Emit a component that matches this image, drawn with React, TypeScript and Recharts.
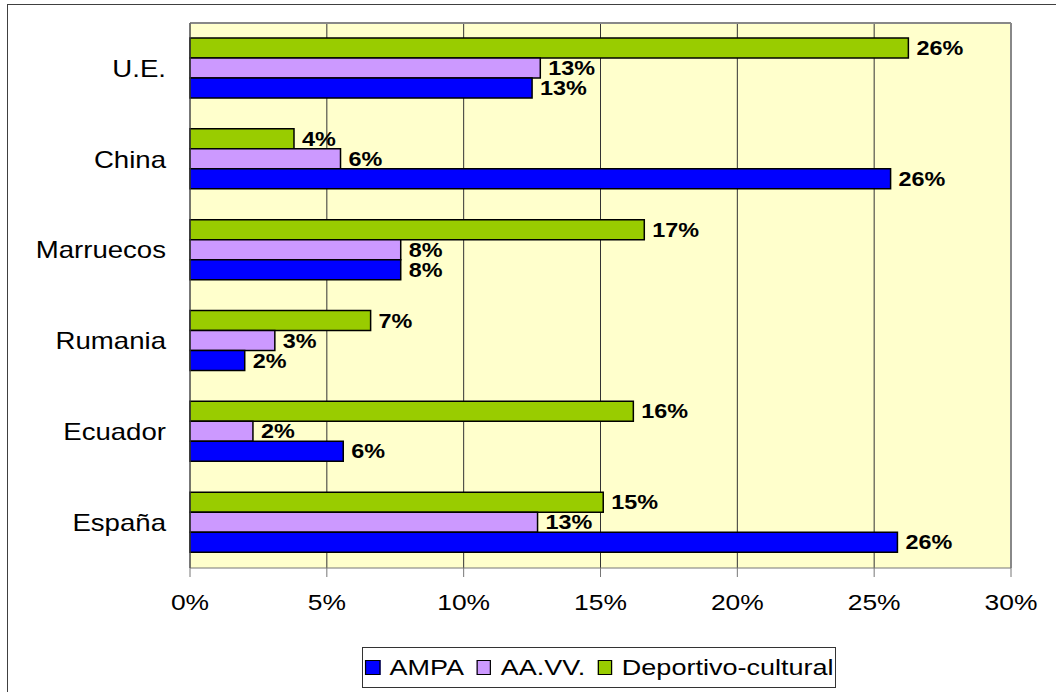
import React from 'react';
import { BarChart, Bar, XAxis, YAxis, CartesianGrid, Legend, LabelList, ReferenceLine } from 'recharts';

const categories = ['U.E.', 'China', 'Marruecos', 'Rumania', 'Ecuador', 'España'];
const ampa = [12.5, 25.6, 7.7, 2.0, 5.6, 25.85];
const aavv = [12.8, 5.5, 7.7, 3.1, 2.3, 12.7];
const deportivo = [26.25, 3.8, 16.6, 6.6, 16.2, 15.1];
const xTicks = [0, 5, 10, 15, 20, 25, 30];

const series = [
  { key: 'deportivo', name: 'Deportivo-cultural', color: '#99CC00' },
  { key: 'aavv', name: 'AA.VV.', color: '#CC99FF' },
  { key: 'ampa', name: 'AMPA', color: '#0000FF' },
];

const data = categories.map((c, i) => ({
  name: c,
  ampa: ampa[i],
  aavv: aavv[i],
  deportivo: deportivo[i],
}));

const FONT = '"Liberation Sans", Arial, sans-serif';
const SX = 1.2;

const CatTick = (props: any) => {
  const { x, y, payload } = props;
  return (
    <g transform={`translate(${x},${y}) scale(${SX},1)`}>
      <text x={0} y={0} dy="0.36em" textAnchor="end" fontFamily={FONT} fontSize={23} fill="#000">
        {payload.value}
      </text>
    </g>
  );
};

const NumTick = (props: any) => {
  const { x, y, payload } = props;
  return (
    <g transform={`translate(${x},${y}) scale(${SX},1)`}>
      <text x={0} y={0} dy={31} textAnchor="middle" fontFamily={FONT} fontSize={22} fill="#000">
        {payload.value + '%'}
      </text>
    </g>
  );
};

const ValueLabel = (props: any) => {
  const { x, y, width, height, value } = props;
  const lx = x + width + 8;
  const ly = y + height / 2;
  return (
    <g transform={`translate(${lx},${ly}) scale(${SX},1)`}>
      <text x={0} y={0} dy="0.36em" textAnchor="start" fontFamily={FONT} fontWeight="bold" fontSize={19.5} fill="#000">
        {Math.round(value) + '%'}
      </text>
    </g>
  );
};

const legendOrder = ['ampa', 'aavv', 'deportivo'];

const LegendBox = () => (
  <div
    style={{
      boxSizing: 'border-box',
      width: 474,
      height: 41,
      border: '1px solid #333',
      background: '#fff',
      display: 'flex',
      alignItems: 'center',
      justifyContent: 'center',
      fontFamily: FONT,
      fontSize: 22.5,
      color: '#000',
    }}
  >
    <div style={{ display: 'flex', alignItems: 'center', transform: `scaleX(${SX})`, whiteSpace: 'nowrap' }}>
      {legendOrder.map((k, i) => {
        const s = series.find((x) => x.key === k)!;
        return (
          <div key={k} style={{ display: 'flex', alignItems: 'center', marginLeft: i === 0 ? 0 : 10 }}>
            <span
              style={{
                display: 'inline-block',
                boxSizing: 'border-box',
                width: 12.5,
                height: 15,
                background: s.color,
                border: '1.5px solid #000',
                marginRight: 8,
              }}
            />
            <span>{s.name}</span>
          </div>
        );
      })}
    </div>
  </div>
);

export default function App() {
  return (
    <div style={{ position: 'fixed', left: 0, top: 0, width: 1056, height: 692, overflow: 'hidden', background: '#fff' }}>
      <div style={{ position: 'absolute', left: 0, top: 0 }}>
        <BarChart
          width={1056}
          height={692}
          data={data}
          layout="vertical"
          margin={{ top: 23, right: 45, left: 0, bottom: 4 }}
          barCategoryGap="16.5%"
          barGap={0}
        >
          <CartesianGrid horizontal={false} stroke="#333" fill="#FFFFCC" />
          <CartesianGrid vertical={false} horizontalPoints={[23]} stroke="#888" strokeWidth={2} />
          <XAxis
            type="number"
            domain={[0, 30]}
            ticks={xTicks}
            interval={0}
            height={79}
            tick={<NumTick />}
            tickSize={9}
            stroke="#777"
          />
          <YAxis yAxisId="b" type="number" domain={[0, 6]} ticks={[0, 1, 2, 3, 4, 5, 6]} width={0} tick={() => <g />} tickSize={9} axisLine={false} stroke="#555" />
          <YAxis
            type="category"
            dataKey="name"
            width={190}
            tick={<CatTick />}
            tickLine={false}
            tickSize={0}
            tickMargin={24}
            stroke="#555"
          />
          <ReferenceLine x={30} stroke="#888" strokeWidth={2} />
          <Legend verticalAlign="bottom" content={<LegendBox />} wrapperStyle={{ left: 362, width: 474, bottom: 4 }} />
          {series.map((s) => (
            <Bar
              key={s.key}
              dataKey={s.key}
              name={s.name}
              fill={s.color}
              stroke="#000"
              strokeWidth={1.5}
              isAnimationActive={false}
            >
              <LabelList dataKey={s.key} content={<ValueLabel />} />
            </Bar>
          ))}
        </BarChart>
      </div>
      <div
        style={{
          position: 'absolute',
          left: 7,
          top: 4,
          right: -20,
          bottom: -20,
          borderTop: '1px solid #404040',
          borderLeft: '1px solid #404040',
          pointerEvents: 'none',
          zIndex: 10,
        }}
      />
    </div>
  );
}
